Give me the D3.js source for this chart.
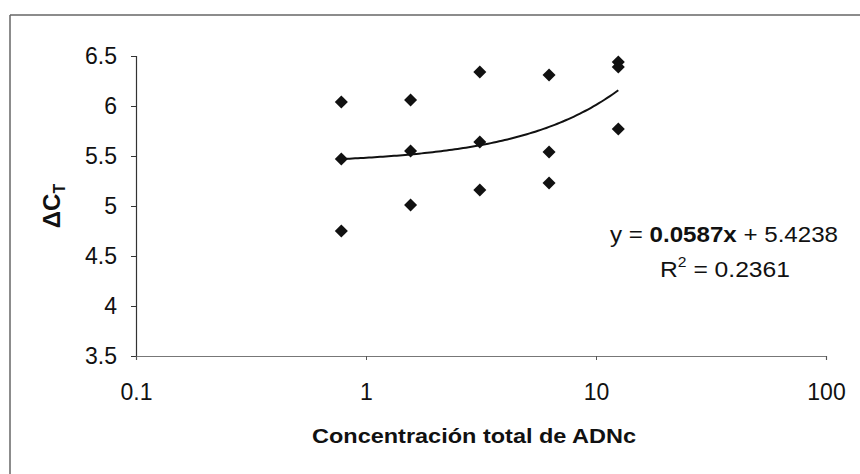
<!DOCTYPE html>
<html><head><meta charset="utf-8">
<script src="https://cdn.jsdelivr.net/npm/d3@7"></script>
<style>body{margin:0;background:#fff}svg{display:block}text{font-family:Arial,"Liberation Sans",sans-serif;fill:#111}</style>
</head><body>
<script>
// Data
const concentrations = [0.78125, 0.78125, 0.78125, 1.5625, 1.5625, 1.5625, 3.125, 3.125, 3.125, 6.25, 6.25, 6.25, 12.5, 12.5, 12.5];
const deltaCt = [6.04, 5.47, 4.75, 6.06, 5.55, 5.01, 6.34, 5.64, 5.16, 6.31, 5.54, 5.23, 6.44, 6.39, 5.77];
const xTicks = [0.1, 1, 10, 100];
const yTicks = [3.5, 4, 4.5, 5, 5.5, 6, 6.5];
const trendSlope = 0.0587, trendIntercept = 5.4238;
const eqText = {pre: "y = ", bold: "0.0587x", post: " + 5.4238"};
const r2Text = "0.2361";
const xTitle = "Concentración total de ADNc";

const W = 860, H = 474;
const svg = d3.select("body").append("svg").attr("width", W).attr("height", H);

// outer frame (partial, as in scan)
svg.append("line").attr("x1",10).attr("x2",W).attr("y1",15).attr("y2",15).attr("stroke","#666").attr("stroke-width",1.5);
svg.append("line").attr("x1",10).attr("x2",10).attr("y1",15).attr("y2",H).attr("stroke","#666").attr("stroke-width",1.5);

const x = d3.scaleLog().domain([0.1, 100]).range([136, 826]);
const y = d3.scaleLinear().domain([3.5, 6.5]).range([356, 56]);

// y axis
const gy = svg.append("g").attr("transform","translate(136,0)")
  .call(d3.axisLeft(y).tickValues(yTicks).tickFormat(d3.format("")).tickSize(5).tickPadding(14));
gy.select(".domain").attr("stroke","#333").attr("stroke-width",1.2);
gy.selectAll(".tick line").attr("stroke","#333");
gy.selectAll("text").style("font-size","23px").attr("fill","#111");

// x axis
const gx = svg.append("g").attr("transform","translate(0,356)")
  .call(d3.axisBottom(x).tickValues(xTicks).tickFormat(d3.format("")).tickSize(4).tickPadding(24));
gx.select(".domain").attr("stroke","#777").attr("stroke-width",1.2);
gx.selectAll(".tick line").attr("stroke","#555");
gx.selectAll("text").style("font-size","23px").attr("fill","#111");

// trend line
const lmin = Math.log(d3.min(concentrations)), lmax = Math.log(d3.max(concentrations));
const xs = d3.range(0, 101).map(i => Math.exp(lmin + i/100*(lmax - lmin)));
svg.append("path").datum(xs)
  .attr("d", d3.line().x(d => x(d)).y(d => y(trendSlope*d + trendIntercept)))
  .attr("fill","none").attr("stroke","#111").attr("stroke-width",2);

// points
svg.append("g").selectAll("path").data(concentrations.map((c,i)=>[c, deltaCt[i]])).join("path")
  .attr("d", d3.symbol(d3.symbolSquare, 85))
  .attr("transform", d => `translate(${x(d[0])},${y(d[1])}) rotate(45)`)
  .attr("fill","#111");

// equation
const eq = svg.append("text").attr("x", 610).attr("y", 242).style("font-size","22px")
  .attr("textLength", 228).attr("lengthAdjust","spacingAndGlyphs");
eq.append("tspan").text(eqText.pre);
eq.append("tspan").attr("font-weight","bold").text(eqText.bold);
eq.append("tspan").text(eqText.post);
const r2 = svg.append("text").attr("x", 660).attr("y", 277).style("font-size","22px")
  .attr("textLength", 130).attr("lengthAdjust","spacingAndGlyphs");
r2.append("tspan").text("R");
r2.append("tspan").attr("dy",-10).style("font-size","14px").text("2");
r2.append("tspan").attr("dy",10).text(" = " + r2Text);

// axis titles
svg.append("text").attr("x", 312).attr("y", 443)
  .attr("font-weight","bold").style("font-size","21px")
  .attr("textLength", 324).attr("lengthAdjust","spacingAndGlyphs").text(xTitle);
const yt = svg.append("text").attr("transform","translate(60,206) rotate(-90)").attr("text-anchor","middle")
  .attr("font-weight","bold").style("font-size","24px");
yt.append("tspan").text("ΔC");
yt.append("tspan").attr("dy",5).style("font-size","16px").text("T");
</script>
</body></html>
